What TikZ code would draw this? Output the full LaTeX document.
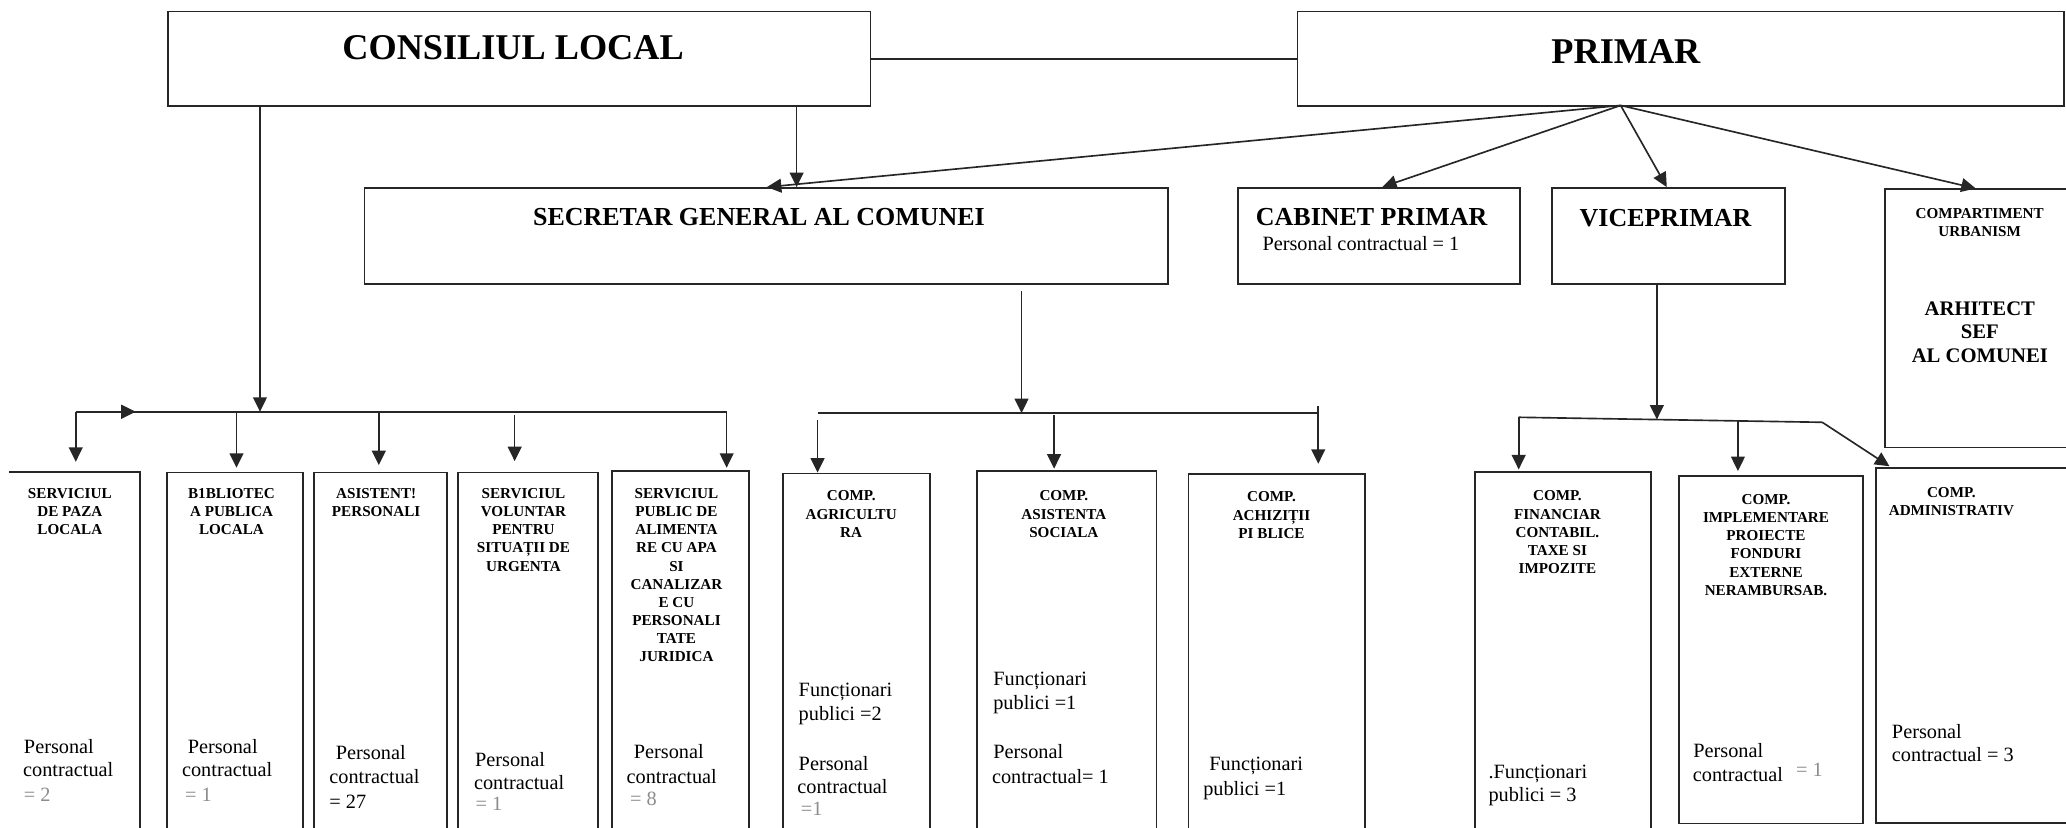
\documentclass[tikz,border=0pt]{standalone}
\usepackage{fontspec}
\setmainfont{Liberation Serif}
\usetikzlibrary{arrows.meta}
\tikzset{
  box/.style={draw=black!85, line width=1.35pt, inner sep=0pt, anchor=north west},
  openbox/.style={inner sep=0pt, anchor=north west},
  conn/.style={draw=black!85, line width=1.25pt},
  arr/.style={conn, -{Triangle[length=11pt,width=10.5pt]}},
  bigt/.style={font=\bfseries\fontsize{27.5}{33}\selectfont, inner sep=0pt, anchor=base},
  midt/.style={font=\bfseries\fontsize{19.7}{24}\selectfont, inner sep=0pt, anchor=base},
  smt/.style={font=\bfseries\fontsize{11.5}{13.8}\selectfont, inner sep=0pt, align=center, anchor=north},
  arht/.style={font=\bfseries\fontsize{15.7}{17.8}\selectfont, inner sep=0pt, align=center, anchor=north},
  stf/.style={font=\fontsize{15.4}{18}\selectfont, inner sep=0pt, anchor=base west},
  gr/.style={text=black!45},
}
\begin{document}
\begin{tikzpicture}[x=1pt,y=-1pt]
\useasboundingbox (0,0) rectangle (1568,628.4);

% ---------- boxes ----------
\node[box, minimum width=533pt, minimum height=72pt] (cl) at (127,8) {};
\node[box, minimum width=582pt, minimum height=72pt] (pr) at (984,8) {};
\node[box, minimum width=610pt, minimum height=73pt] (sg) at (276,142) {};
\node[box, minimum width=214pt, minimum height=73pt] (cab) at (939,142) {};
\node[box, minimum width=177pt, minimum height=73pt] (vp) at (1177,142) {};
\node[box, minimum width=150pt, minimum height=196pt] (urb) at (1430,143) {};

\node[openbox, minimum width=99pt, minimum height=280pt] (b1) at (7,358.5) {};
\draw[conn, line width=1.35pt] (b1.north west) -- (b1.north east) -- (b1.south east);
\node[box, minimum width=103.7pt, minimum height=280pt] (b2) at (125.8,358) {};
\node[box, minimum width=100.8pt, minimum height=280pt] (b3) at (237.6,358) {};
\node[box, minimum width=106pt, minimum height=280pt] (b4) at (347,358) {};
\node[box, minimum width=104pt, minimum height=280pt] (b5) at (464,357) {};
\node[box, minimum width=112pt, minimum height=280pt] (b6) at (593.4,358.7) {};
\node[box, minimum width=136.4pt, minimum height=280pt] (b7) at (740.6,356.7) {};
\node[box, minimum width=133.7pt, minimum height=280pt] (b8) at (901.3,359) {};
\node[box, minimum width=133.6pt, minimum height=280pt] (b9) at (1118.8,357.3) {};
\node[box, minimum width=139.7pt, minimum height=263.9pt] (b10) at (1273.6,360.5) {};
\node[box, minimum width=152pt, minimum height=269pt] (b11) at (1423,354.7) {};

% ---------- top texts ----------
\node[bigt] (tcl) at (389.4,45) {CONSILIUL LOCAL};
\node[bigt] (tpr) at (1234,48) {PRIMAR};
\node[midt] (tsg) at (576,170.8) {SECRETAR GENERAL AL COMUNEI};
\node[midt, anchor=base west] (tcab) at (953,170.8) {CABINET PRIMAR};
\node[stf] (tcab2) at (958,189.8) {Personal contractual = 1};
\node[midt] (tvp) at (1264,172) {VICEPRIMAR};
\node[smt] (turb) at (1502.5,158.1) {COMPARTIMENT\\URBANISM};
\node[arht] (tarh) at (1502.6,228.6) {ARHITECT\\SEF\\AL COMUNEI};

% ---------- bottom box titles ----------
\node[smt] (h1) at (53,370.6) {SERVICIUL\\DE PAZA\\LOCALA};
\node[smt] (h2) at (175.7,370.4) {B1BLIOTEC\\A PUBLICA\\LOCALA};
\node[smt] (h3) at (285.5,370.4) {ASISTENT!\\PERSONALI};
\node[smt] (h4) at (397.3,370.4) {SERVICIUL\\VOLUNTAR\\PENTRU\\SITUAȚII DE\\URGENTA};
\node[smt] (h5) at (513.4,370.4) {SERVICIUL\\PUBLIC DE\\ALIMENTA\\RE CU APA\\SI\\CANALIZAR\\E CU\\PERSONALI\\TATE\\JURIDICA};
\node[smt] (h6) at (646,372.4) {COMP.\\AGRICULTU\\RA};
\node[smt] (h7) at (807.4,372.4) {COMP.\\ASISTENTA\\SOCIALA};
\node[smt] (h8) at (965,373.1) {COMP.\\ACHIZIȚII\\PI BLICE};
\node[smt] (h9) at (1182,372.4) {COMP.\\FINANCIAR\\CONTABIL.\\TAXE SI\\IMPOZITE};
\node[smt] (h10) at (1340.3,374.9) {COMP.\\IMPLEMENTARE\\PROIECTE\\FONDURI\\EXTERNE\\NERAMBURSAB.};
\node[smt] (h11) at (1481,369.4) {COMP.\\ADMINISTRATIV};

% ---------- staff texts ----------
\node[stf] (s1a) at (18,571.8) {Personal};
\node[stf] (s1b) at (17.4,589.5) {contractual};
\node[stf, gr] (s1c) at (18,608.5) {= 2};

\node[stf] (s2a) at (142.3,571.8) {Personal};
\node[stf] (s2b) at (138,589.5) {contractual};
\node[stf, gr] (s2c) at (140.3,608) {= 1};

\node[stf] (s3a) at (254.7,576.4) {Personal};
\node[stf] (s3b) at (249.8,594.6) {contractual};
\node[stf] (s3c) at (249.8,613.6) {= 27};

\node[stf] (s4a) at (360.4,581.4) {Personal};
\node[stf] (s4b) at (359.6,599) {contractual};
\node[stf, gr] (s4c) at (360.7,614.8) {= 1};

\node[stf] (s5a) at (480.9,575.6) {Personal};
\node[stf] (s5b) at (475.4,594.6) {contractual};
\node[stf, gr] (s5c) at (478,611) {= 8};

\node[stf] (s6a) at (606,528.8) {Funcționari};
\node[stf] (s6b) at (606,546.5) {publici =2};
\node[stf] (s6c) at (606,584.4) {Personal};
\node[stf] (s6d) at (605,602.6) {contractual};
\node[stf, gr] (s6e) at (607.7,618.6) {=1};

\node[stf] (s7a) at (753.7,520) {Funcționari};
\node[stf] (s7b) at (753.7,538.4) {publici =1};
\node[stf] (s7c) at (753.7,575.6) {Personal};
\node[stf] (s7d) at (752.7,594.6) {contractual= 1};

\node[stf] (s8a) at (917.7,584.4) {Funcționari};
\node[stf] (s8b) at (913,603.4) {publici =1};

\node[stf] (s9a) at (1129.5,590.8) {.Funcționari};
\node[stf] (s9b) at (1129.5,608.5) {publici = 3};

\node[stf] (s10a) at (1285,574.8) {Personal};
\node[stf] (s10b) at (1284.6,593.3) {contractual};
\node[stf, gr] (s10c) at (1363,589.5) {= 1};

\node[stf] (s11a) at (1435.7,560.4) {Personal};
\node[stf] (s11b) at (1435.7,578.1) {contractual = 3};

% ---------- connectors ----------
\draw[conn] (cl.east) -- (cl.east -| pr.west);

\coordinate (po) at (1230,80);
\coordinate (tsga) at (582,142);
\coordinate (tcaba) at (1049,142);
\coordinate (tvpa) at (1265,142);
\coordinate (turba) at (1499.5,143);
\draw[arr] (po) -- (tsga);
\draw[arr] (po) -- (tcaba);
\draw[arr] (po) -- (tvpa);
\draw[arr] (po) -- (turba);

\coordinate (cd) at (604.6,80);
\draw[arr] (cd) -- (cd |- sg.north);

% left group
\coordinate (cv) at (197.3,80);
\coordinate (hl1) at (57.5,312.5);
\coordinate (hl2) at (551.5,312.5);
\coordinate (ha) at (103,312.5);
\draw[conn] (hl1) -- (hl2);
\draw[arr] (cv) -- (cv |- hl1);
\draw[arr] (hl1) -- (ha);
\coordinate (d2) at (179.5,312.5);
\coordinate (d3) at (287.5,312.5);
\coordinate (d4) at (390.6,315);
\draw[arr, shorten >=8pt] (hl1) -- (hl1 |- b1.north);
\draw[arr, shorten >=3pt] (d2) -- (d2 |- b2.north);
\draw[arr, shorten >=5pt] (d3) -- (d3 |- b3.north);
\draw[arr, shorten >=8pt] (d4) -- (d4 |- b4.north);
\draw[arr, shorten >=2pt] (hl2) -- (hl2 |- b5.north);

% secretar group
\coordinate (sv) at (775.3,221);
\coordinate (hr1) at (620.5,313.5);
\coordinate (hr2) at (1000.5,313.5);
\coordinate (hr3) at (800,315);
\draw[conn] (hr1) -- (hr2);
\draw[arr] (sv) -- (sv |- hr1);
\draw[arr] ([yshift=-5pt]hr1) -- (hr1 |- b6.north);
\draw[arr, shorten >=1pt] (hr3) -- (hr3 |- b7.north);
\draw[arr, shorten >=7pt] ([yshift=5pt]hr2) -- (hr2 |- b8.north);

% viceprimar group
\coordinate (vv) at (1257.5,215);
\coordinate (vj) at (1257.5,318.4);
\coordinate (vh1) at (1152.6,316.7);
\coordinate (vh2) at (1383,320.5);
\coordinate (vh3) at (1319,319.6);
\coordinate (tb11) at (1435.3,354.7);
\draw[conn] (vh1) -- (vh2);
\draw[arr] (vv) -- (vj);
\draw[arr, shorten >=1pt] (vh1) -- (vh1 |- b9.north);
\draw[arr, shorten >=3pt] (vh3) -- (vh3 |- b10.north);
\draw[arr, shorten >=1.5pt] (vh2) -- (tb11);
\end{tikzpicture}
\end{document}
